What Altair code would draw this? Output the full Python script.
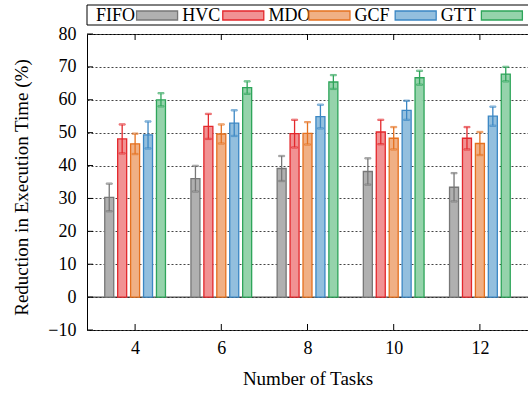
import altair as alt
import pandas as pd

tasks = [4, 6, 8, 10, 12]
methods = ["FIFO", "HVC", "MDO", "GCF", "GTT"]
fifo = [30.3, 36.0, 39.1, 38.2, 33.4]
fifo_err = [4.2, 3.9, 3.8, 4.0, 4.3]
hvc = [48.1, 51.9, 49.7, 50.2, 48.3]
hvc_err = [4.4, 3.8, 4.2, 3.7, 3.4]
mdo = [46.6, 49.6, 49.8, 48.3, 46.7]
mdo_err = [3.1, 2.9, 3.4, 3.4, 3.5]
gcf = [49.3, 52.9, 54.9, 56.8, 55.0]
gcf_err = [4.1, 3.9, 3.6, 2.9, 2.9]
gtt = [60.0, 63.7, 65.4, 66.7, 67.8]
gtt_err = [2.0, 1.9, 2.1, 2.1, 2.2]
y_ticks = [-10, 0, 10, 20, 30, 40, 50, 60, 70, 80]
x_ticks = [4, 6, 8, 10, 12]

fills = ["#b0b0b0", "#f19293", "#f0b085", "#93bfde", "#95d3ab"]
strokes = ["#777777", "#e3282c", "#e5711f", "#3b87c4", "#2ea55a"]

FONT = "Liberation Serif"
W, H = 441, 296

series = {
    "FIFO": (fifo, fifo_err),
    "HVC": (hvc, hvc_err),
    "MDO": (mdo, mdo_err),
    "GCF": (gcf, gcf_err),
    "GTT": (gtt, gtt_err),
}
rows = []
for mi, m in enumerate(methods):
    vals, errs = series[m]
    for t, v, e in zip(tasks, vals, errs):
        rows.append(dict(task=t, method=m, pos=t + (mi - 2) * 0.3,
                         value=v, lo=v - e, hi=v + e))
df = pd.DataFrame(rows)
leg_df = pd.DataFrame({"method": methods, "idx": list(range(len(methods)))})
yt_df = pd.DataFrame({"v": y_ticks})
xt_df = pd.DataFrame({"v": x_ticks})
zero_df = pd.DataFrame({"v": [0]})

xscale = alt.Scale(domain=[3, 13], nice=False, zero=False)
yscale = alt.Scale(domain=[-10, 80], nice=False, zero=False)
fill_enc = alt.Fill("method:N", scale=alt.Scale(domain=methods, range=fills), legend=None)
stroke_enc = alt.Stroke("method:N", scale=alt.Scale(domain=methods, range=strokes), legend=None)

x_axis = alt.Axis(values=x_ticks, title="Number of Tasks")
y_axis = alt.Axis(values=y_ticks, title="Reduction in Execution Time (%)")


def X(field):
    return alt.X(field, scale=xscale, axis=x_axis)


def Y(field):
    return alt.Y(field, scale=yscale, axis=y_axis)


zero = alt.Chart(zero_df).mark_rule(color="#222222", strokeWidth=1).encode(y=Y("v:Q"))

bars = alt.Chart(df).mark_bar(size=9, strokeWidth=1.3, orient="vertical").encode(
    x=X("pos:Q"), y=Y("value:Q"), fill=fill_enc, stroke=stroke_enc)

err = alt.Chart(df).mark_rule(strokeWidth=1.3).encode(
    x=X("pos:Q"), y=Y("lo:Q"), y2="hi:Q", stroke=stroke_enc)
cap_lo = alt.Chart(df).mark_tick(orient="horizontal", size=6, thickness=1.3).encode(
    x=X("pos:Q"), y=Y("lo:Q"), fill=fill_enc, stroke=stroke_enc)
cap_hi = alt.Chart(df).mark_tick(orient="horizontal", size=6, thickness=1.3).encode(
    x=X("pos:Q"), y=Y("hi:Q"), fill=fill_enc, stroke=stroke_enc)

ytick = alt.Chart(yt_df).mark_rule(color="black", strokeWidth=1).encode(
    y=Y("v:Q"), x=alt.value(0), x2=alt.value(6))
xtick_top = alt.Chart(xt_df).mark_rule(color="black", strokeWidth=1).encode(
    x=X("v:Q"), y=alt.value(0), y2=alt.value(6))
xtick_bot = alt.Chart(xt_df).mark_rule(color="black", strokeWidth=1).encode(
    x=X("v:Q"), y=alt.value(H - 6), y2=alt.value(H))

# legend: five equal slots across the top, label then swatch
leg_box = alt.Chart(zero_df).mark_rect(fillOpacity=0, stroke="black", strokeWidth=1).encode(
    x=alt.value(0), x2=alt.value(W + 20), y=alt.value(-29), y2=alt.value(-9))
leg_text = alt.Chart(leg_df).transform_calculate(
    lx="3 + 2 * datum.idx").mark_text(
    align="left", baseline="middle", dx=4, font=FONT, fontSize=18, color="black").encode(
    x=X("lx:Q"), y=alt.value(-18.5), text="method:N")
leg_sw = alt.Chart(leg_df).transform_calculate(
    sx="3 + 2 * datum.idx + 1.51").mark_point(
    shape="M-1,-0.22L1,-0.22L1,0.22L-1,0.22Z", size=1681, filled=True,
    strokeWidth=1.3, opacity=1).encode(
    x=X("sx:Q"), y=alt.value(-18.5), fill=fill_enc, stroke=stroke_enc)

chart = alt.layer(zero, bars, err, cap_lo, cap_hi, ytick, xtick_top, xtick_bot,
                  leg_box, leg_text, leg_sw).properties(
    width=W, height=H,
    padding={"left": 87, "top": 34, "right": 0, "bottom": 63},
    autosize=alt.AutoSizeParams(type="none"),
).configure_view(stroke="black", strokeWidth=1).configure_axis(
    ticks=False, domain=False,
    labelFont=FONT, labelFontSize=18, labelColor="black",
    titleFont=FONT, titleFontSize=19, titleFontWeight="normal", titleColor="black",
).configure_axisX(
    grid=False, labelPadding=9, titleY=54, titleBaseline="alphabetic",
).configure_axisY(
    grid=True, gridDash=[2, 2], gridColor="#444444", gridWidth=1, gridOpacity=1,
    labelPadding=11, titleX=-60, titleY=153, titleBaseline="alphabetic",
)

chart.save("out.html", embed_options={"renderer": "svg", "actions": False})
